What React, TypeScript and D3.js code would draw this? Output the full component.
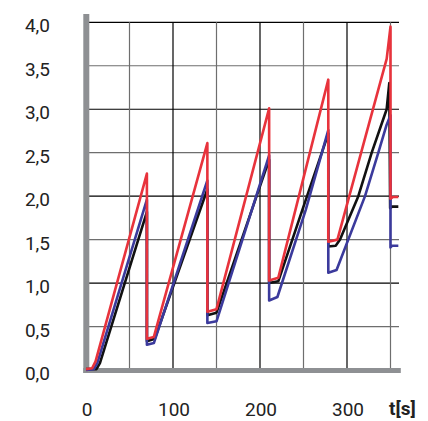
import React from "react";
import * as d3 from "d3";

const redT = [0, 7, 11, 70, 70, 78, 139.5, 139.5, 150, 210.5, 210.5, 221, 278.5, 278.5, 289, 345.6, 350, 350, 353, 359];
const redV = [0.01, 0.02, 0.1, 2.26, 0.36, 0.38, 2.61, 0.67, 0.7, 3.01, 1.03, 1.06, 3.34, 1.475, 1.5, 3.58, 3.95, 1.97, 1.99, 1.99];

const blackT = [0, 12, 16, 70, 70, 79, 139.5, 139.5, 150, 210.5, 210.5, 221, 248.6, 278.5, 278.5, 287, 292, 313, 328.4, 345.6, 348.6, 349.6, 352, 359];
const blackV = [0.01, 0.01, 0.08, 1.82, 0.33, 0.36, 2.08, 0.63, 0.66, 2.42, 1.0, 1.02, 1.84, 2.72, 1.42, 1.43, 1.5, 2.0, 2.5, 3.0, 3.3, 1.86, 1.88, 1.88];

const blueT = [0, 9, 13, 70, 70, 78, 139.5, 139.5, 150, 210.5, 210.5, 220, 252.5, 278.5, 278.5, 288, 320.7, 336, 345.5, 350, 350, 352, 359];
const blueV = [0.0, 0.01, 0.08, 1.96, 0.29, 0.31, 2.18, 0.54, 0.56, 2.47, 0.8, 0.84, 1.84, 2.76, 1.12, 1.15, 2.0, 2.5, 2.82, 2.93, 1.41, 1.43, 1.43];

const yTicks = [0, 0.5, 1, 1.5, 2, 2.5, 3, 3.5, 4];
const xTicks = [0, 100, 200, 300];
const xGrid = [50, 100, 150, 200, 250, 300, 350];
const xLabel = "t[s]";

const fmt = (v: number) => v.toFixed(1).replace(".", ",");

export default function App() {
  const x = d3.scaleLinear().domain([0, 360]).range([86, 399.2]);
  const y = d3.scaleLinear().domain([0, 4]).range([370, 22.3]);
  const line = d3
    .line<[number, number]>()
    .x((d) => x(d[0]))
    .y((d) => y(d[1]));
  const mk = (t: number[], v: number[]) => t.map((tt, i) => [tt, v[i]] as [number, number]);
  const series = [
    { t: blackT, v: blackV, c: "#111111" },
    { t: blueT, v: blueV, c: "#3b3a9c" },
    { t: redT, v: redV, c: "#e8333c" },
  ];
  const font = "Roboto, 'Liberation Sans', sans-serif";
  return (
    <svg width={428} height={421} style={{ position: "absolute", left: 0, top: 0, background: "#fff" }}>
      {yTicks.filter((v) => v > 0).map((v) => (
        <line key={"h" + v} x1={89} x2={399} y1={y(v)} y2={y(v)}
          stroke={Math.round(v) === v ? "#000" : "#6e6e6e"} strokeWidth={1.2} />
      ))}
      {xGrid.map((t) => (
        <line key={"v" + t} x1={x(t)} x2={x(t)} y1={y(4)} y2={369}
          stroke={t % 100 === 0 ? "#000" : "#6e6e6e"} strokeWidth={1.2} />
      ))}
      <rect x={83.3} y={14} width={6} height={359} fill="#8e9093" />
      <rect x={83.3} y={368} width={317.5} height={5} fill="#8e9093" />
      {series.map((s, i) => (
        <path key={i} d={line(mk(s.t, s.v)) || ""} fill="none" stroke={s.c}
          strokeWidth={2.6} strokeLinejoin="round" />
      ))}
      {yTicks.map((v) => (
        <text key={"yl" + v} x={50} y={y(v) + 10} textAnchor="end" fontSize={19}
          fontFamily={font} fill="#222">{fmt(v)}</text>
      ))}
      {xTicks.map((t) => (
        <text key={"xl" + t} x={x(t) + 1} y={416} textAnchor="middle" fontSize={19}
          fontFamily={font} fill="#222">{t}</text>
      ))}
      <text x={389} y={415} fontSize={19} fontWeight="bold" fontFamily={font} fill="#222">{xLabel}</text>
    </svg>
  );
}
